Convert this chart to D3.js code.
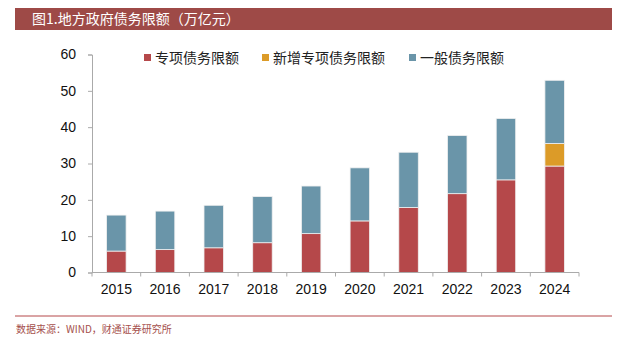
<!DOCTYPE html>
<html><head><meta charset="utf-8">
<script src="https://cdn.jsdelivr.net/npm/d3@7"></script>
<style>body{margin:0;background:#fff}</style>
</head><body>
<svg id="c" width="618" height="338"></svg>
<script>
const years = ["2015","2016","2017","2018","2019","2020","2021","2022","2023","2024"];
const special = [5.9, 6.3, 6.8, 8.2, 10.7, 14.2, 17.9, 21.7, 25.5, 29.3];
const newSpecial = [0, 0, 0, 0, 0, 0, 0, 0, 0, 6.2];
const general = [9.9, 10.6, 11.7, 12.7, 13.1, 14.6, 15.2, 16.0, 16.9, 17.4];
const seriesNames = ["专项债务限额", "新增专项债务限额", "一般债务限额"];
const colors = ["#b5484a", "#dc9b28", "#6a95a9"];
const yTicks = [0, 10, 20, 30, 40, 50, 60];

const svg = d3.select("#c");

// title bar
svg.append("rect").attr("x", 15).attr("y", 8).attr("width", 597).attr("height", 22).attr("fill", "#9e4a47");
svg.append("text").attr("x", 32).attr("y", 24).attr("fill", "#fff")
  .attr("font-family", "'Noto Sans CJK SC', sans-serif").attr("font-size", 14)
  .text("图1.地方政府债务限额（万亿元）");

const x = d3.scaleBand().domain(years).range([92, 579]).paddingInner(0.6).paddingOuter(0.3);
const y = d3.scaleLinear().domain([0, 60]).range([272.5, 54.5]);

const data = years.map((yr, i) => ({year: yr, s: special[i], n: newSpecial[i], g: general[i]}));
const layers = d3.stack().keys(["s", "n", "g"])(data);

const g = svg.append("g");
layers.forEach((layer, li) => {
  g.selectAll(null).data(layer).enter().append("rect")
    .attr("x", d => x(d.data.year))
    .attr("width", x.bandwidth())
    .attr("y", d => y(d[1]))
    .attr("height", d => Math.max(0, y(d[0]) - y(d[1])))
    .attr("fill", colors[li])
    .attr("stroke", "#f0f0f0").attr("stroke-width", 0.8);
});

// y axis
const yAxis = svg.append("g").attr("transform", "translate(92,0)")
  .call(d3.axisLeft(y).tickValues(yTicks).tickSize(4).tickPadding(12));
// x axis
const xAxis = svg.append("g").attr("transform", "translate(0,272.5)")
  .call(d3.axisBottom(x).tickSize(0).tickPadding(12));
// band boundary ticks
const edges = d3.range(years.length + 1).map(i => 92 + i * (487 / years.length));
svg.append("g").selectAll("line").data(edges).enter().append("line")
  .attr("x1", d => d).attr("x2", d => d).attr("y1", 272.5).attr("y2", 276.5)
  .attr("stroke", "#aaa");

[yAxis, xAxis].forEach(a => {
  a.selectAll("path, line").attr("stroke", "#aaa");
  a.selectAll("text").attr("font-family", "'Liberation Sans', Arial, sans-serif")
    .attr("font-size", 14).attr("fill", "#111");
});
xAxis.select("path").attr("d", "M92,0H579");

// legend
const legendX = [144, 262, 409];
const leg = svg.append("g");
seriesNames.forEach((nm, i) => {
  leg.append("rect").attr("x", legendX[i]).attr("y", 54).attr("width", 7).attr("height", 7).attr("fill", colors[i]);
  leg.append("text").attr("x", legendX[i] + 11).attr("y", 62.5)
    .attr("font-family", "'Noto Sans CJK SC', sans-serif").attr("font-size", 14).attr("fill", "#222")
    .text(nm);
});

// footer
svg.append("line").attr("x1", 15).attr("x2", 612).attr("y1", 316).attr("y2", 316)
  .attr("stroke", "#b5484a").attr("stroke-width", 1);
svg.append("text").attr("x", 16).attr("y", 333).attr("fill", "#a5504d")
  .attr("font-family", "'Noto Sans CJK SC', sans-serif").attr("font-size", 10)
  .text("数据来源：WIND，财通证券研究所");
</script>
</body></html>
